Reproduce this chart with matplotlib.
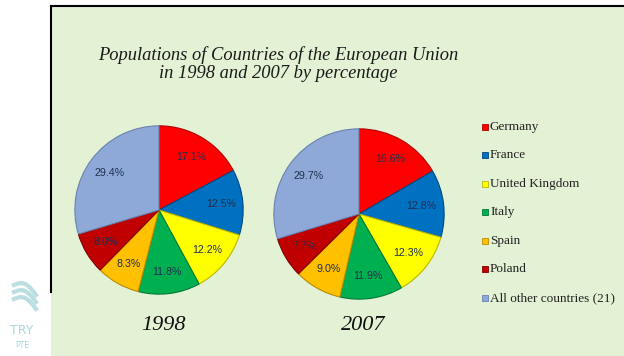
import matplotlib
matplotlib.use("Agg")
import matplotlib.pyplot as plt
from matplotlib.patches import Rectangle
from matplotlib.lines import Line2D
import numpy as np

# ---- data ----
countries = ["Germany", "France", "United Kingdom", "Italy", "Spain", "Poland",
             "All other countries (21)"]
values_1998 = [17.1, 12.5, 12.2, 11.8, 8.3, 8.0, 29.4]
values_2007 = [16.6, 12.8, 12.3, 11.9, 9.0, 7.7, 29.7]
years = ["1998", "2007"]
title_text = "Populations of Countries of the European Union\nin 1998 and 2007 by percentage"

colors = ["#FF0000", "#0070C0", "#FFFF00", "#00B050", "#FFC000", "#C00000", "#8EA9D8"]
edges = ["#B00000", "#004A80", "#B8B800", "#007A38", "#B88A00", "#800000", "#6A82B0"]

W, H = 624, 356
fig = plt.figure(figsize=(W / 100, H / 100), dpi=100)
fig.patch.set_facecolor("white")

def fx(x):
    return np.asarray(x) / W

def fy(y):
    return 1 - np.asarray(y) / H

SERIF = ["Liberation Serif", "DejaVu Serif"]

# green panel
bg = fig.add_axes([fx(51), 0, 1 - fx(51), fy(6)])
bg.set_facecolor("#E3F1D5")
bg.set_xticks([]); bg.set_yticks([])
for s in ["right", "bottom", "left"]:
    bg.spines[s].set_visible(False)
bg.spines["top"].set_linewidth(1.5)
fig.add_artist(Line2D([fx(51), fx(51)], [fy(6), fy(292)], color="black", lw=1.5))

fig.text(fx(278), fy(64), title_text, ha="center", va="center", fontsize=13.3,
         family=SERIF, style="italic", color="#1a1a1a", linespacing=1.05)

def draw_pie(cx, cy, r, vals, year):
    ax = fig.add_axes([fx(cx - r), fy(cy + r), 2 * r / W, 2 * r / H])
    ax.axis("off")
    wedges, texts, autotexts = ax.pie(
        vals, colors=colors, startangle=90, counterclock=False, radius=1.0,
        autopct=lambda p: "", pctdistance=0.74,
        wedgeprops=dict(linewidth=0.8),
        textprops=dict(fontsize=7.7, color="#1F3050", family="Liberation Sans"))
    for w, e in zip(wedges, edges):
        w.set_edgecolor(e)
    for t, v in zip(autotexts, vals):
        t.set_text(f"{v:.1f}%")
    ax.set_xlim(-1.01, 1.01); ax.set_ylim(-1.01, 1.01)
    fig.text(fx(cx + 4), fy(326), year, ha="center", va="center", fontsize=16,
             family=SERIF, style="italic", color="#111111")

draw_pie(159, 210, 85, values_1998, years[0])
draw_pie(359, 214, 86, values_2007, years[1])

# legend
leg_y = [127, 155, 184, 212, 241, 269, 298]
for name, c, e, y in zip(countries, colors, edges, leg_y):
    fig.add_artist(Rectangle((fx(482), fy(y + 3)), 6 / W, 6 / H, facecolor=c,
                             edgecolor=e, lw=0.6))
    fig.text(fx(490), fy(y), name, ha="left", va="center", fontsize=9.5,
             family=SERIF, color="#222222")

# watermark
wm = "#A9D6DA"
for i, off in enumerate([0, 7, 14]):
    t = np.linspace(0, 1, 30)
    xs = 14 + 22 * t
    ys = 285 + off + 10 * t - 6 * np.sin(np.pi * t)
    fig.add_artist(Line2D(fx(xs), fy(ys), color=wm, lw=3, alpha=0.8))
fig.text(fx(22), fy(331), "TRY", ha="center", va="center", fontsize=9, color=wm,
         family="DejaVu Sans")
fig.text(fx(22), fy(346), "PTE", ha="center", va="center", fontsize=5.5, color=wm,
         family="DejaVu Sans")

fig.savefig("out.png", dpi=100)
